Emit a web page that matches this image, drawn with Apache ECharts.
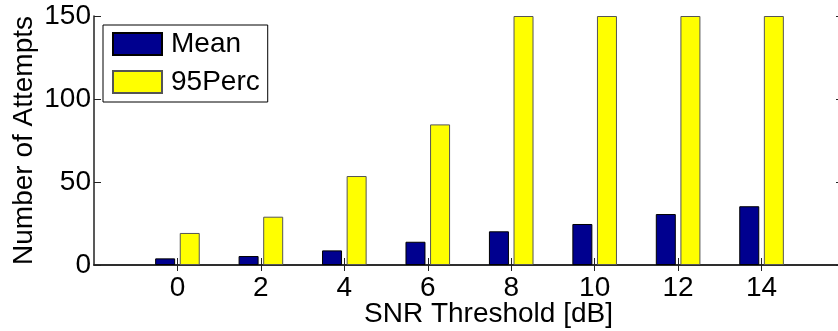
<!DOCTYPE html>
<html><head><meta charset="utf-8">
<script src="https://cdn.jsdelivr.net/npm/echarts@6/dist/echarts.min.js"></script>
<style>html,body{margin:0;padding:0;background:#fff}#c{width:838px;height:331px}</style>
</head><body><div id="c"></div>
<script>
var categories = ['0','2','4','6','8','10','12','14'];
var meanValues = [4.0, 5.4, 8.8, 14.0, 20.3, 24.7, 30.7, 35.4];
var perc95Values = [19.3, 29.1, 53.6, 84.7, 150, 150, 150, 150];
var yTicks = [0, 50, 100, 150];

var axisCats = ['-2'].concat(categories).concat(['16']);
var pad = function(arr){ return [null].concat(arr).concat([null]); };
var font = 'Liberation Sans, Arial, sans-serif';
var fs = 28;
var chart = echarts.init(document.getElementById('c'));
var tickInt = function(i){ return i > 0 && i < axisCats.length - 1; };
chart.setOption({
  animation: false,
  grid: {left: 94, top: 16, right: -7, bottom: 66, containLabel: false, outerBoundsMode: 'none'},
  legend: {
    left: 103, top: 25, orient: 'vertical',
    itemWidth: 49, itemHeight: 22, itemGap: 10,
    padding: [5, 8, 6, 9],
    borderColor: '#000', borderWidth: 1, backgroundColor: '#fff',
    textStyle: {fontFamily: font, fontSize: fs, color: '#000', padding: [0,0,0,4], lineHeight: 22},
    icon: 'rect',
    data: ['Mean', '95Perc']
  },
  xAxis: [{
    type: 'category', data: axisCats, boundaryGap: false,
    name: 'SNR Threshold [dB]', nameLocation: 'middle', nameGap: 35, nameMoveOverlap: false,
    nameTextStyle: {fontFamily: font, fontSize: fs, color: '#000', padding:[0,0,0,38]},
    axisLine: {lineStyle: {color: '#222', width: 1.5}},
    axisTick: {inside: true, length: 7, interval: tickInt, lineStyle: {color: '#222'}},
    axisLabel: {margin: 9, fontFamily: font, fontSize: fs, color: '#000',
      interval: 0, formatter: function(v, i){ return tickInt(i) ? v : ''; }},
    splitLine: {show: false}
  }, {
    type: 'category', data: axisCats, boundaryGap: false, position: 'top',
    axisLine: {lineStyle: {color: '#222', width: 1.5}},
    axisTick: {inside: true, length: 6, interval: tickInt, lineStyle: {color: '#222'}},
    axisLabel: {show: false}, splitLine: {show: false}
  }],
  yAxis: [{
    type: 'value', min: 0, max: 150, interval: 50,
    name: 'Number of Attempts', nameLocation: 'middle', nameGap: 56, nameMoveOverlap: false,
    nameTextStyle: {fontFamily: font, fontSize: fs, color: '#000'},
    axisLine: {show: true, lineStyle: {color: '#222', width: 1.5}},
    axisTick: {show: true, inside: true, length: 7, lineStyle: {color: '#222'}},
    axisLabel: {margin: 3, fontFamily: font, fontSize: fs, color: '#000',
      formatter: function(v){ return yTicks.indexOf(v) >= 0 ? String(v) : ''; }},
    splitLine: {show: false}
  }, {
    type: 'value', min: 0, max: 150, interval: 50, position: 'right',
    axisLine: {show: true, lineStyle: {color: '#222', width: 1.5}},
    axisTick: {show: true, inside: true, length: 9, lineStyle: {color: '#222'}},
    axisLabel: {show: false}, splitLine: {show: false}
  }],
  series: [{
    name: 'Mean', type: 'bar', data: pad(meanValues), barWidth: 20, barGap: '23%',
    itemStyle: {color: '#00008f', borderColor: '#000', borderWidth: 1}
  }, {
    name: '95Perc', type: 'bar', data: pad(perc95Values), barWidth: 20, barGap: '23%',
    itemStyle: {color: '#ffff00', borderColor: '#555', borderWidth: 1}
  }]
});
</script></body></html>
